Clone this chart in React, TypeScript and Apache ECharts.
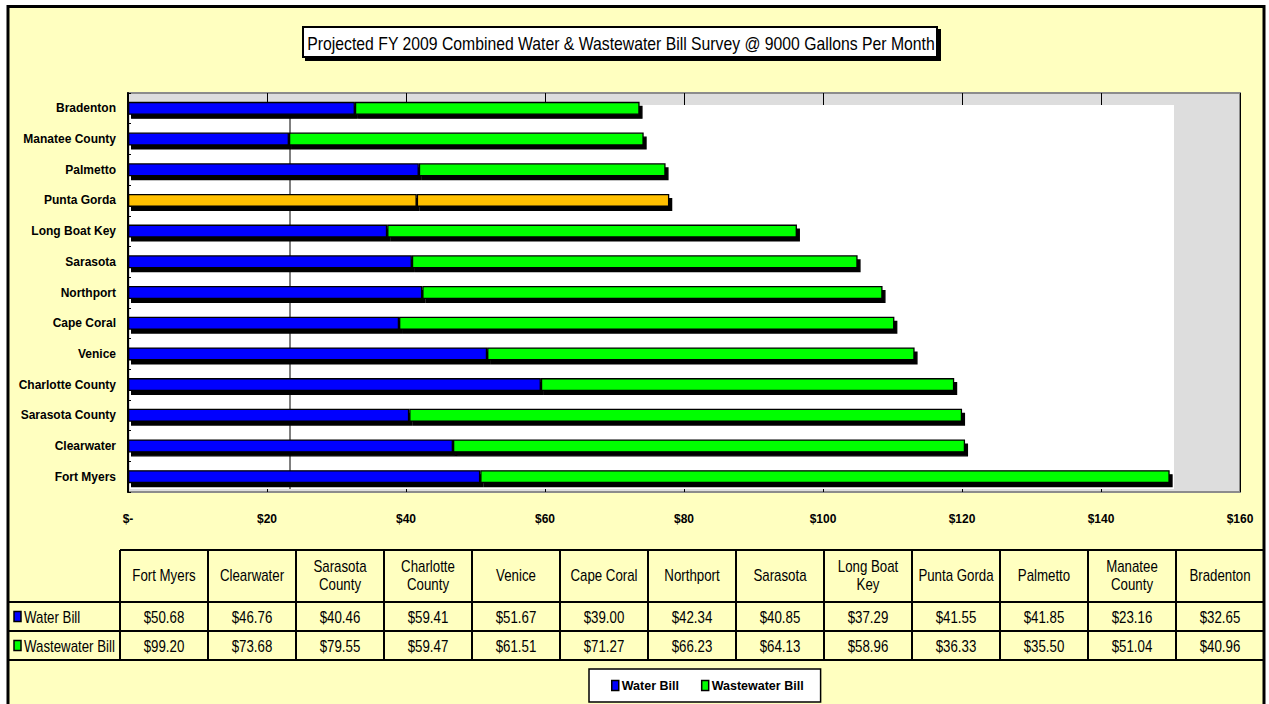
import React, { useEffect, useRef } from "react";
import * as echarts from "echarts";

const categories = [
  "Fort Myers", "Clearwater", "Sarasota County", "Charlotte County", "Venice", "Cape Coral",
  "Northport", "Sarasota", "Long Boat Key", "Punta Gorda", "Palmetto", "Manatee County", "Bradenton",
];
const waterBill = [50.68, 46.76, 40.46, 59.41, 51.67, 39.0, 42.34, 40.85, 37.29, 41.55, 41.85, 23.16, 32.65];
const wastewaterBill = [99.2, 73.68, 79.55, 59.47, 61.51, 71.27, 66.23, 64.13, 58.96, 36.33, 35.5, 51.04, 40.96];
const seriesNames = ["Water Bill", "Wastewater Bill"];
const highlighted = "Punta Gorda";
const xMin = 0;
const xMax = 160;
const xInterval = 20;
const title = "Projected FY 2009 Combined Water & Wastewater Bill Survey @ 9000 Gallons Per Month";

const FONT = "'Liberation Sans', Arial, sans-serif";
const NARROW = 0.83;
const BLUE = "#0000FF";
const GREEN = "#00FF00";
const ORANGE = "#FFC000";
const BG = "#FFFFC0";

function headerText(s: string) {
  if (s.length > 11) {
    const i = s.lastIndexOf(" ");
    return s.slice(0, i) + "\n" + s.slice(i + 1);
  }
  return s;
}

export default function App() {
  const ref = useRef<HTMLDivElement>(null);
  useEffect(() => {
    document.body.style.margin = "0";
    const chart = echarts.init(ref.current!, null, { renderer: "svg" });

    const colX0 = 120;
    const colW = 88;
    const tTop = 550;
    const tHead = 602;
    const tRow1 = 631;
    const tRow2 = 660;
    const tableEls: any[] = [];
    tableEls.push({ type: "line", z: 4, shape: { x1: colX0, y1: tTop, x2: colX0 + colW * categories.length, y2: tTop }, style: { stroke: "#000", lineWidth: 2 } });
    [tHead, tRow1, tRow2].forEach((y) =>
      tableEls.push({ type: "line", z: 4, shape: { x1: 9, y1: y, x2: colX0 + colW * categories.length, y2: y }, style: { stroke: "#000", lineWidth: 2 } })
    );
    for (let k = 0; k <= categories.length; k++) {
      const x = colX0 + colW * k;
      tableEls.push({ type: "line", z: 4, shape: { x1: x, y1: tTop, x2: x, y2: tRow2 }, style: { stroke: "#000", lineWidth: 2 } });
    }
    categories.forEach((c, k) => {
      const cx = colX0 + colW * k + colW / 2;
      tableEls.push({
        type: "text", z: 4, x: cx, y: (tTop + tHead) / 2, scaleX: NARROW,
        style: { text: headerText(c), font: `16px ${FONT}`, fill: "#000", align: "center", verticalAlign: "middle", lineHeight: 18 },
      });
      tableEls.push({
        type: "text", z: 4, x: cx, y: (tHead + tRow1) / 2 + 1, scaleX: NARROW,
        style: { text: "$" + waterBill[k].toFixed(2), font: `16px ${FONT}`, fill: "#000", align: "center", verticalAlign: "middle" },
      });
      tableEls.push({
        type: "text", z: 4, x: cx, y: (tRow1 + tRow2) / 2 + 1, scaleX: NARROW,
        style: { text: "$" + wastewaterBill[k].toFixed(2), font: `16px ${FONT}`, fill: "#000", align: "center", verticalAlign: "middle" },
      });
    });
    [[tHead, tRow1, BLUE, seriesNames[0]], [tRow1, tRow2, GREEN, seriesNames[1]]].forEach(([a, b, col, name]: any) => {
      const cy = (a + b) / 2;
      tableEls.push({ type: "rect", z: 4, shape: { x: 14, y: cy - 5, width: 7, height: 10 }, style: { fill: col, stroke: "#000", lineWidth: 1.5 } });
      tableEls.push({ type: "text", z: 4, x: 24, y: cy + 1, scaleX: NARROW, style: { text: name, font: `16px ${FONT}`, fill: "#000", align: "left", verticalAlign: "middle" } });
    });

    const barStyle = {
      borderColor: "#000",
      borderWidth: 1.3,
      shadowColor: "#000",
      shadowBlur: 0,
      shadowOffsetX: 3,
      shadowOffsetY: 4,
    };

    const mk = (vals: number[]) =>
      vals.map((v, i) => (categories[i] === highlighted ? { value: v, itemStyle: { color: ORANGE } } : v));

    chart.setOption({
      animation: false,
      backgroundColor: "#fff",
      textStyle: { fontFamily: FONT },
      grid: {
        show: true,
        z: 1,
        left: 128,
        right: 29,
        top: 93,
        bottom: 212,
        backgroundColor: "#DDDDDD",
        borderColor: "#8c8c8c",
        borderWidth: 2,
      },
      legend: {
        z: 4,
        left: 589,
        top: 669,
        orient: "horizontal",
        backgroundColor: "#fff",
        borderColor: "#000",
        borderWidth: 1.5,
        padding: [10, 17, 10, 22],
        itemGap: 22,
        itemWidth: 7,
        itemHeight: 10,
        icon: "rect",
        itemStyle: { borderColor: "#000", borderWidth: 1.5, shadowBlur: 0, shadowOffsetX: 0, shadowOffsetY: 0, shadowColor: "transparent" },
        textStyle: { fontFamily: FONT, fontWeight: "bold", fontSize: 12.5, color: "#000", padding: [0, 0, 0, -2] },
        data: seriesNames,
      },
      xAxis: {
        type: "value",
        z: 1,
        min: xMin,
        max: xMax,
        interval: xInterval,
        axisLine: { show: false },
        axisTick: { show: false },
        splitLine: { show: true, lineStyle: { color: "#000", width: 1 } },
        axisLabel: {
          margin: 21,
          fontFamily: FONT,
          fontWeight: "bold",
          fontSize: 12,
          color: "#000",
          formatter: (v: number) => (v === 0 ? "$-" : "$" + v),
        },
      },
      yAxis: {
        type: "category",
        z: 3,
        data: categories,
        axisLine: { show: true, lineStyle: { color: "#000", width: 2 } },
        axisTick: { show: true, inside: true, length: 3, lineStyle: { color: "#000", width: 1 } },
        axisLabel: { margin: 12, fontFamily: FONT, fontWeight: "bold", fontSize: 12, color: "#000" },
        splitLine: { show: false },
      },
      series: [
        {
          name: seriesNames[0],
          type: "bar",
          z: 4,
          stack: "bill",
          barWidth: 13,
          itemStyle: { color: BLUE, ...barStyle },
          data: mk(waterBill),
        },
        {
          name: seriesNames[1],
          type: "bar",
          z: 4,
          stack: "bill",
          barWidth: 13,
          itemStyle: { color: GREEN, ...barStyle },
          data: mk(wastewaterBill),
        },
      ],
      graphic: [
        {
          type: "rect", z: 0, silent: true,
          shape: { x: 8, y: 6.5, width: 1256, height: 720 },
          style: { fill: BG, stroke: "#000", lineWidth: 3 },
        },
        {
          type: "rect", z: 2, silent: true,
          shape: { x: 130, y: 105, width: 1044, height: 384 },
          style: { fill: "#fff" },
        },
        {
          type: "line", z: 2, silent: true,
          shape: { x1: 290, y1: 105, x2: 290, y2: 489 },
          style: { stroke: "#000", lineWidth: 1 },
        },
        {
          type: "rect", z: 4,
          shape: { x: 303, y: 27, width: 634, height: 30 },
          style: { fill: "#fff", stroke: "#000", lineWidth: 2, shadowColor: "#000", shadowBlur: 0, shadowOffsetX: 3, shadowOffsetY: 3 },
        },
        {
          type: "text", z: 5, x: 621, y: 43, scaleX: 0.83,
          style: { text: title, font: `19px ${FONT}`, fill: "#000", align: "center", verticalAlign: "middle" },
        },
        ...tableEls,
      ],
    });
    return () => chart.dispose();
  }, []);
  return <div ref={ref} style={{ width: 1269, height: 704 }} />;
}
